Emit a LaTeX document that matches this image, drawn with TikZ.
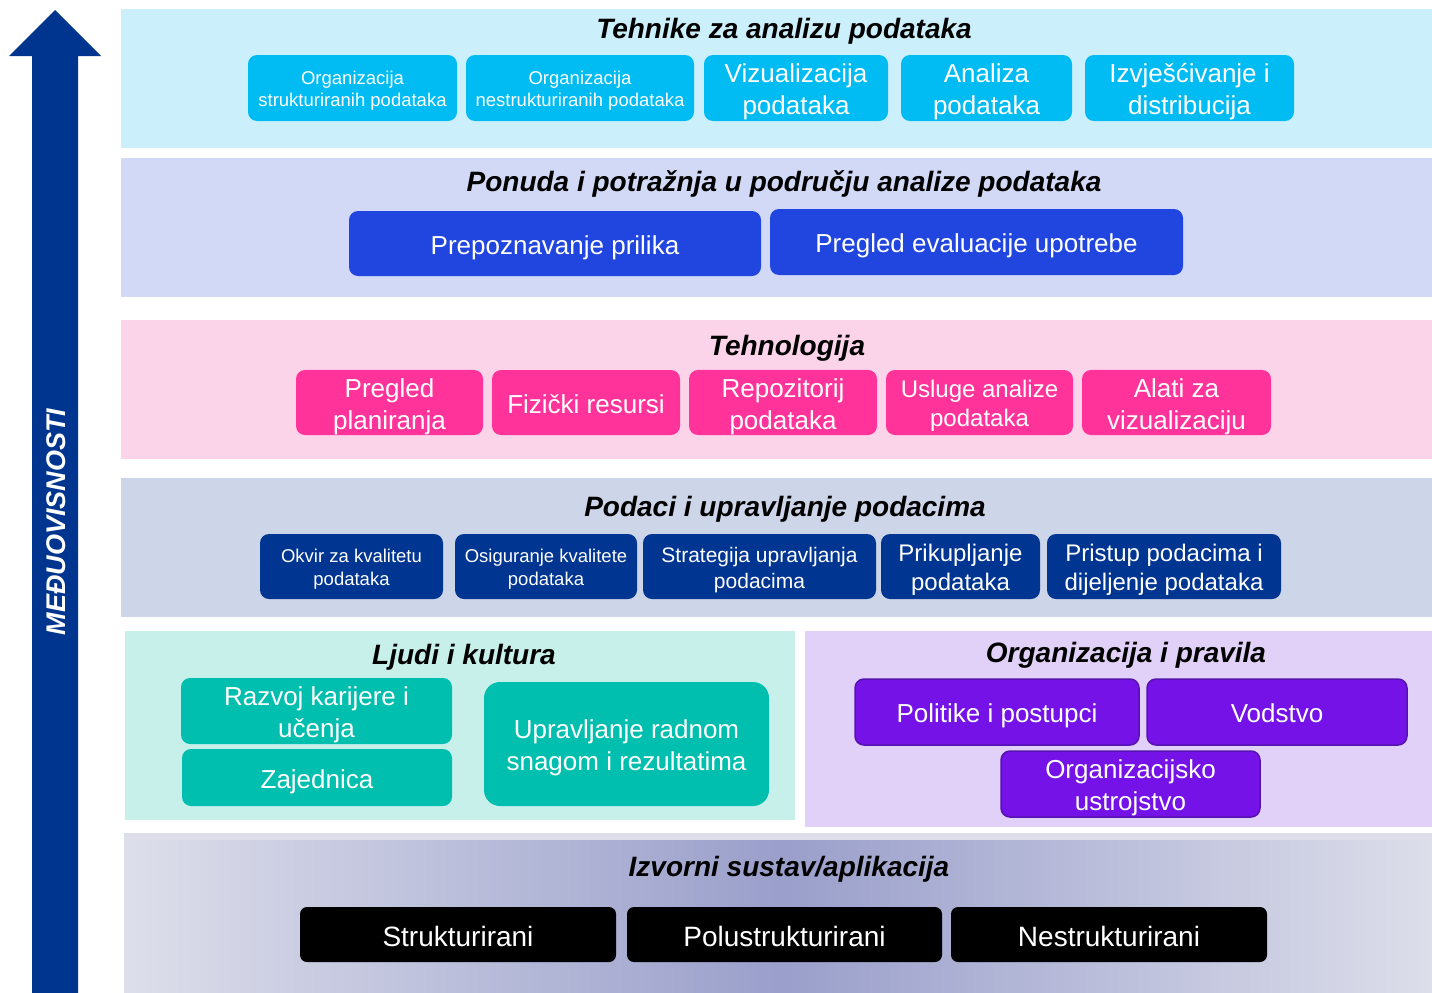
\documentclass[tikz,border=0pt]{standalone}
\usepackage{fontspec}
\setmainfont{Liberation Sans}
\definecolor{cArrow}{HTML}{00358F}
\definecolor{bCyan}{HTML}{CCEFFC}
\definecolor{bBlue}{HTML}{D1D9F6}
\definecolor{bPink}{HTML}{FCD4EA}
\definecolor{bNavy}{HTML}{CDD5E8}
\definecolor{bTeal}{HTML}{C8F0EB}
\definecolor{bPurp}{HTML}{E1D0F7}
\definecolor{bGrey}{HTML}{DCDEEA}
\definecolor{bMid}{HTML}{9A9FCB}
\definecolor{kCyan}{HTML}{00BCF2}
\definecolor{kBlue}{HTML}{2146E0}
\definecolor{kPink}{HTML}{FF3399}
\definecolor{kNavy}{HTML}{003591}
\definecolor{kTeal}{HTML}{00BFAE}
\definecolor{kPurp}{HTML}{7412E8}
\definecolor{kPurpD}{HTML}{5513B0}
\newcommand{\fsz}[2]{\fontsize{#1}{#2}\selectfont}
\newcommand{\topS}{\rule[-0.22em]{0pt}{1.27em}}
\newcommand{\botS}{\rule[-0.22em]{0pt}{0.22em}}
\tikzset{
  ttl/.style={font=\fsz{28}{32}\bfseries\itshape, inner sep=0, text=black},
  bx/.style={rounded corners=9pt, text=white, align=center, inner sep=0},
  bigt/.style={font=\fsz{26}{32}},
  midt/.style={font=\fsz{24}{29}},
  smt/.style={font=\fsz{18.5}{22.5}},
  strt/.style={font=\fsz{21}{26}},
  hugt/.style={font=\fsz{28}{32}},
}
\begin{document}
\begin{tikzpicture}[x=1pt,y=-1pt]
\useasboundingbox (0,0) rectangle (1432,993);
% arrow
\fill[cArrow] (32,993) -- (32,56) -- (9,56) -- (55,10) -- (101,56) -- (78,56) -- (78,993) -- cycle;
\node[rotate=90, text=white, font=\fsz{27}{30}\bfseries\itshape, inner sep=0] (arr) at (56,522) {MEĐUOVISNOSTI};
% bands
\fill[bCyan] (121,9) rectangle (1432,148);
\fill[bBlue] (121,158) rectangle (1432,297);
\fill[bPink] (121,320) rectangle (1432,459);
\fill[bNavy] (121,478) rectangle (1432,617);
\fill[bTeal] (125,631) rectangle (795,820);
\fill[bPurp] (805,631) rectangle (1432,827);
\fill[bGrey] (124,833) rectangle (1432,993);
\shade[left color=bGrey, right color=bGrey, middle color=bMid] (131,840) rectangle (1432,993);
% titles
\node[ttl] (t1) at (784,31) {Tehnike za analizu podataka};
\node[ttl] (t2) at (784,184) {Ponuda i potražnja u području analize podataka};
\node[ttl] (t3) at (787,348) {Tehnologija};
\node[ttl] (t4) at (785,509) {Podaci i upravljanje podacima};
\node[ttl] (t5) at (464,657) {Ljudi i kultura};
\node[ttl] (t6) at (1126,655) {Organizacija i pravila};
\node[ttl] (t7) at (789,869) {Izvorni sustav/aplikacija};
% row 1
\node[bx, smt, fill=kCyan, minimum width=209, minimum height=66] (o1) at (352.5,88) {\topS Organizacija\\strukturiranih podataka\botS};
\node[bx, smt, fill=kCyan, minimum width=228, minimum height=66] (o2) at (580,88) {\topS Organizacija\\nestrukturiranih podataka\botS};
\node[bx, bigt, fill=kCyan, minimum width=184, minimum height=66] (o3) at (796,88) {\topS Vizualizacija\\podataka\botS};
\node[bx, bigt, fill=kCyan, minimum width=171, minimum height=66] (o4) at (986.5,88) {\topS Analiza\\podataka\botS};
\node[bx, bigt, fill=kCyan, minimum width=209, minimum height=66] (o5) at (1189.5,88) {\topS Izvješćivanje i\\distribucija\botS};
% row 2
\node[bx, bigt, fill=kBlue, minimum width=412, minimum height=65] (p1) at (555,243.5) {\topS Prepoznavanje prilika\botS};
\node[bx, bigt, fill=kBlue, minimum width=413, minimum height=66] (p2) at (976.5,242) {\topS Pregled evaluacije upotrebe\botS};
% row 3
\node[bx, bigt, fill=kPink, minimum width=187, minimum height=65] (h1) at (389.5,402.5) {\topS Pregled\\planiranja\botS};
\node[bx, bigt, fill=kPink, minimum width=188, minimum height=65] (h2) at (586,402.5) {\topS Fizički resursi\botS};
\node[bx, bigt, fill=kPink, minimum width=188, minimum height=65] (h3) at (783,402.5) {\topS Repozitorij\\podataka\botS};
\node[bx, midt, fill=kPink, minimum width=187, minimum height=65] (h4) at (979.5,402.5) {\topS Usluge analize\\podataka\botS};
\node[bx, bigt, fill=kPink, minimum width=189, minimum height=65] (h5) at (1176.5,402.5) {\topS Alati za\\vizualizaciju\botS};
% row 4
\node[bx, smt, fill=kNavy, minimum width=183, minimum height=65] (d1) at (351.5,566.5) {\topS Okvir za kvalitetu\\podataka\botS};
\node[bx, smt, fill=kNavy, minimum width=182, minimum height=65] (d2) at (546,566.5) {\topS Osiguranje kvalitete\\podataka\botS};
\node[bx, strt, fill=kNavy, minimum width=233, minimum height=65] (d3) at (759.5,566.5) {\topS Strategija upravljanja\\podacima\botS};
\node[bx, midt, fill=kNavy, minimum width=159, minimum height=65] (d4) at (960.5,566.5) {\topS Prikupljanje\\podataka\botS};
\node[bx, midt, fill=kNavy, minimum width=234, minimum height=65] (d5) at (1164,566.5) {\topS Pristup podacima i\\dijeljenje podataka\botS};
% Ljudi i kultura
\node[bx, bigt, fill=kTeal, minimum width=271, minimum height=66] (l1) at (316.5,711) {\topS Razvoj karijere i\\učenja\botS};
\node[bx, bigt, fill=kTeal, minimum width=270, minimum height=57] (l2) at (317,777.5) {\topS Zajednica\botS};
\node[bx, bigt, fill=kTeal, rounded corners=16pt, minimum width=285, minimum height=124] (l3) at (626.5,744) {\topS Upravljanje radnom\\snagom i rezultatima\botS};
% Organizacija i pravila
\node[bx, bigt, fill=kPurp, draw=kPurpD, line width=1.5pt, minimum width=284, minimum height=66] (g1) at (997,712) {\topS Politike i postupci\botS};
\node[bx, bigt, fill=kPurp, draw=kPurpD, line width=1.5pt, minimum width=260, minimum height=66] (g2) at (1277,712) {\topS Vodstvo\botS};
\node[bx, bigt, fill=kPurp, draw=kPurpD, line width=1.5pt, minimum width=259, minimum height=66] (g3) at (1130.5,784) {\topS Organizacijsko\\ustrojstvo\botS};
% Izvorni
\node[bx, hugt, fill=black, rounded corners=7pt, minimum width=316, minimum height=55] (s1) at (458,934.5) {\topS Strukturirani\botS};
\node[bx, hugt, fill=black, rounded corners=7pt, minimum width=315, minimum height=55] (s2) at (784.5,934.5) {\topS Polustrukturirani\botS};
\node[bx, hugt, fill=black, rounded corners=7pt, minimum width=316, minimum height=55] (s3) at (1109,934.5) {\topS Nestrukturirani\botS};
\end{tikzpicture}
\end{document}
